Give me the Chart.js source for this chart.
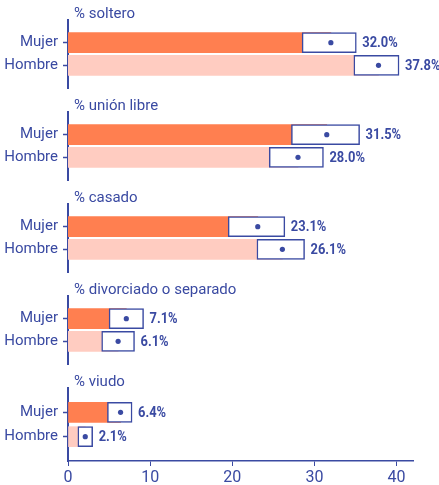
<!DOCTYPE html>
<html>
<head>
<meta charset="utf-8">
<script src="https://cdn.jsdelivr.net/npm/chart.js@4.4.1/dist/chart.umd.min.js"></script>
<style>
    body { margin: 0; background: #fff; }
    #wrap { position: relative; width: 439px; height: 485px; }
    #wrap canvas { position: absolute; left: 0; }
</style>
</head>
<body>
<div id="wrap"></div>
<script>
const panelTitles = ['% soltero', '% unión libre', '% casado', '% divorciado o separado', '% viudo'];
const categories = ['Mujer', 'Hombre'];
const mujerValues = [32.0, 31.5, 23.1, 7.1, 6.4];
const hombreValues = [37.8, 28.0, 26.1, 6.1, 2.1];
// intervalos (caja blanca)
const mujerLow = [28.5, 27.2, 19.5, 5.0, 4.8];
const mujerHigh = [35.1, 35.5, 26.4, 9.2, 7.8];
const hombreLow = [34.8, 24.5, 23.0, 4.1, 1.2];
const hombreHigh = [40.3, 31.1, 28.8, 8.1, 3.0];
const xTicks = [0, 10, 20, 30, 40];

const navy = '#3a4aa2';
const orange = '#ff7f50';
const pink = '#ffccc1';

const panelPlugin = {
    id: 'panelText',
    afterDatasetsDraw(chart) {
        const ctx = chart.ctx;
        const area = chart.chartArea;
        const i = chart.options.panelIndex;
        ctx.save();
        ctx.fillStyle = navy;
        ctx.font = '15px Roboto';
        ctx.textBaseline = 'alphabetic';
        ctx.textAlign = 'left';
        ctx.fillText(panelTitles[i], area.left + 6, area.top - 2);

        const xs = chart.scales.x, ys = chart.scales.y;
        const vals = [mujerValues[i], hombreValues[i]];
        const highs = [mujerHigh[i], hombreHigh[i]];
        ctx.font = 'bold 15px Roboto';
        ctx.textBaseline = 'middle';
        for (let k = 0; k < 2; k++) {
            const px = xs.getPixelForValue(highs[k]) + 6;
            const py = ys.getPixelForValue(k + 1) + 1;
            ctx.save();
            ctx.translate(px, py);
            ctx.scale(0.86, 1);
            ctx.fillText(vals[k].toFixed(1) + '%', 0, 0);
            ctx.restore();
        }
        ctx.restore();
    }
};

function makePanel(i) {
    const last = i === panelTitles.length - 1;
    const top = i * 92;
    const h = last ? 485 - top : 92;
    const canvas = document.createElement('canvas');
    canvas.width = 439;
    canvas.height = h;
    canvas.style.top = top + 'px';
    document.getElementById('wrap').appendChild(canvas);

    const labels = [''].concat(categories).concat(['']);
    new Chart(canvas.getContext('2d'), {
        type: 'bar',
        data: {
            labels: labels,
            datasets: [
                {
                    type: 'line',
                    indexAxis: 'y',
                    data: [null, mujerValues[i], hombreValues[i], null],
                    showLine: false,
                    pointRadius: 2.6,
                    pointBorderWidth: 0,
                    pointBackgroundColor: navy,
                    order: 0
                },
                {
                    data: [null, [mujerLow[i], mujerHigh[i]], [hombreLow[i], hombreHigh[i]], null],
                    backgroundColor: '#ffffff',
                    borderColor: navy,
                    borderWidth: 1.5,
                    borderSkipped: false,
                    grouped: false,
                    barThickness: 20,
                    order: 1
                },
                {
                    data: [null, mujerValues[i], hombreValues[i], null],
                    backgroundColor: ['transparent', orange, pink, 'transparent'],
                    borderWidth: 0,
                    grouped: false,
                    barThickness: 20,
                    order: 2
                }
            ]
        },
        options: {
            panelIndex: i,
            indexAxis: 'y',
            responsive: false,
            animation: false,
            devicePixelRatio: 1,
            layout: { padding: { top: 20, right: 26, bottom: 0, left: 0 } },
            plugins: { legend: { display: false }, tooltip: { enabled: false } },
            scales: {
                x: {
                    display: last,
                    min: 0,
                    max: 42,
                    afterBuildTicks(scale) {
                        scale.ticks = xTicks.map(v => ({ value: v }));
                    },
                    afterFit(scale) { scale.height = last ? 24 : 0; },
                    border: { display: true, color: navy, width: 1.5 },
                    grid: { drawOnChartArea: false, tickLength: 5, color: navy },
                    ticks: { color: navy, padding: 2, font: { family: 'Roboto', size: 16 } }
                },
                y: {
                    offset: false,
                    afterFit(scale) {
                        scale.width = 68;
                        scale.paddingTop = 0;
                        scale.paddingBottom = 0;
                    },
                    border: { display: true, color: navy, width: 2 },
                    grid: {
                        offset: false,
                        drawOnChartArea: false,
                        tickLength: 5,
                        tickWidth: 1.5,
                        tickColor: c => (c.index === 1 || c.index === 2) ? navy : 'transparent'
                    },
                    ticks: { color: navy, padding: 5, autoSkip: false, font: { family: 'Roboto', size: 15 } }
                }
            }
        },
        plugins: [panelPlugin]
    });
}

for (let i = 0; i < panelTitles.length; i++) {
    makePanel(i);
}
</script>
</body>
</html>
